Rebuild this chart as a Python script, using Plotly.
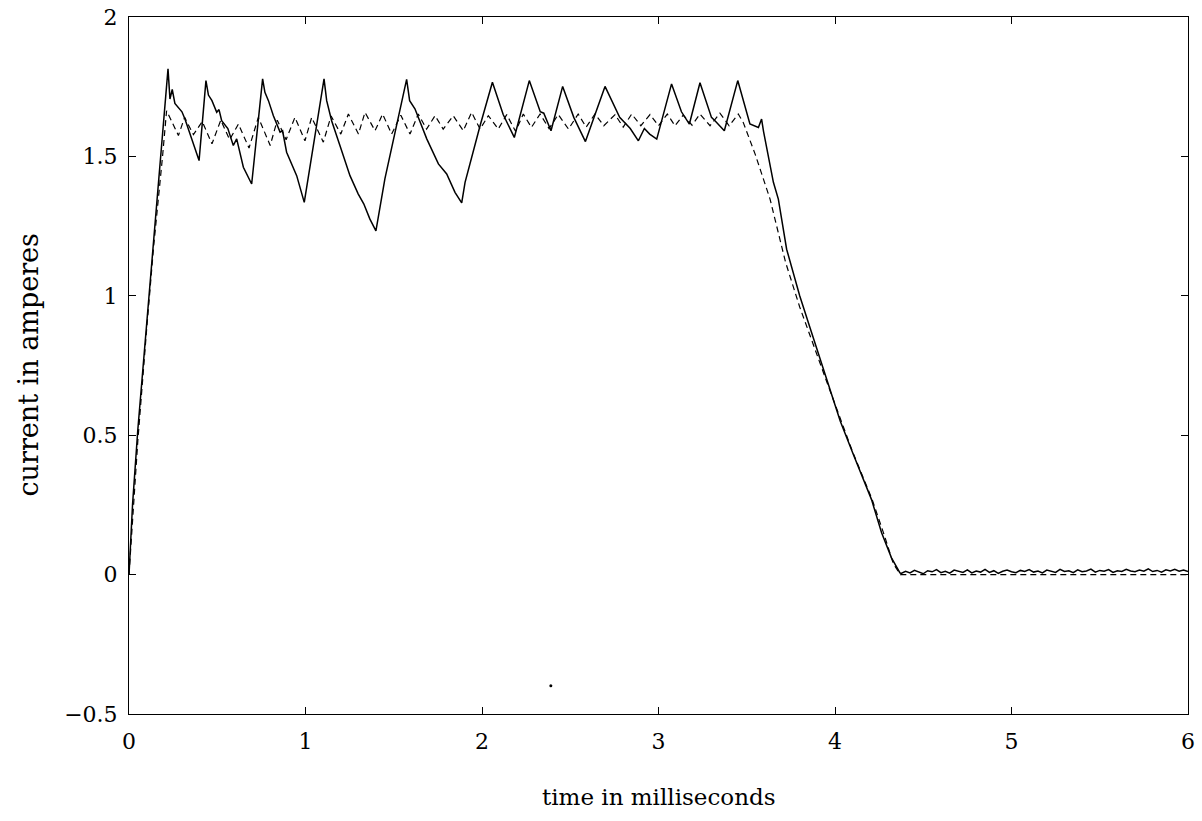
import plotly.graph_objects as go

# ---- data (time in ms, current in A) ----
solid_t = [0.0, 0.02, 0.05, 0.1, 0.138, 0.18, 0.221, 0.232, 0.245, 0.26, 0.28, 0.30, 0.317, 0.355, 0.397,
           0.436, 0.45, 0.47, 0.497, 0.51, 0.525, 0.56, 0.591, 0.61, 0.648, 0.695,
           0.757, 0.77, 0.79, 0.818, 0.856, 0.87, 0.893, 0.95, 0.993,
           1.05, 1.105, 1.12, 1.148, 1.195, 1.252, 1.299, 1.33, 1.365, 1.399,
           1.45, 1.52, 1.573, 1.59, 1.62, 1.687, 1.753, 1.8, 1.847, 1.885,
           1.904, 1.989, 2.059, 2.12, 2.183, 2.268, 2.33, 2.35, 2.391, 2.457, 2.52, 2.586,
           2.697, 2.78, 2.84, 2.886, 2.92, 2.95, 2.99, 3.074, 3.13, 3.175, 3.235, 3.3, 3.32, 3.373,
           3.449, 3.518, 3.566, 3.584, 3.595, 3.651, 3.679, 3.726, 3.8, 3.858, 3.963, 4.03,
           4.104, 4.207, 4.264, 4.32, 4.368]
solid_y = [0.0, 0.25, 0.52, 0.9, 1.19, 1.5, 1.814, 1.706, 1.74, 1.69, 1.676, 1.66, 1.634, 1.563, 1.485,
           1.772, 1.72, 1.70, 1.658, 1.668, 1.628, 1.60, 1.539, 1.563, 1.461, 1.401,
           1.778, 1.73, 1.70, 1.646, 1.587, 1.592, 1.515, 1.431, 1.335,
           1.56, 1.778, 1.70, 1.628, 1.539, 1.431, 1.365, 1.33, 1.275, 1.233,
           1.42, 1.62, 1.776, 1.70, 1.671, 1.563, 1.473, 1.437, 1.371, 1.333,
           1.407, 1.61, 1.766, 1.65, 1.568, 1.772, 1.66, 1.655, 1.592, 1.751, 1.64, 1.553,
           1.751, 1.64, 1.60, 1.556, 1.60, 1.58, 1.562, 1.760, 1.66, 1.616, 1.764, 1.64, 1.628, 1.592,
           1.772, 1.616, 1.604, 1.634, 1.59, 1.407, 1.347, 1.167, 1.0, 0.886, 0.676, 0.55,
           0.431, 0.269, 0.150, 0.06, 0.006]

noise_t = [4.375, 4.4, 4.425, 4.45, 4.475, 4.5, 4.525, 4.55, 4.575, 4.6, 4.625, 4.65, 4.675,
           4.7, 4.725, 4.75, 4.775, 4.8, 4.825, 4.85, 4.875, 4.9, 4.925, 4.95, 4.975, 5.0,
           5.025, 5.05, 5.075, 5.1, 5.125, 5.15, 5.175, 5.2, 5.225, 5.25, 5.275, 5.3, 5.325,
           5.35, 5.375, 5.4, 5.425, 5.45, 5.475, 5.5, 5.525, 5.55, 5.575, 5.6, 5.625, 5.65,
           5.675, 5.7, 5.725, 5.75, 5.775, 5.8, 5.825, 5.85, 5.875, 5.9, 5.925, 5.95, 5.975, 6.0]
noise_y = [0.004, 0.012, 0.006, 0.015, 0.009, 0.003, 0.014, 0.010, 0.018, 0.007,
           0.012, 0.005, 0.016, 0.011, 0.008, 0.017, 0.006, 0.013, 0.009, 0.019,
           0.008, 0.014, 0.004, 0.012, 0.016, 0.010, 0.007, 0.015, 0.011, 0.018,
           0.009, 0.013, 0.006, 0.016, 0.012, 0.008, 0.019, 0.011, 0.014, 0.007,
           0.017, 0.010, 0.013, 0.020, 0.009, 0.015, 0.012, 0.018, 0.008, 0.014,
           0.011, 0.019, 0.013, 0.010, 0.016, 0.012, 0.021, 0.011, 0.015, 0.009,
           0.017, 0.013, 0.019, 0.012, 0.016, 0.011]

dash_t = [0.0, 0.05, 0.1, 0.14, 0.19, 0.213,
          0.28, 0.315, 0.365, 0.415, 0.47, 0.52, 0.57, 0.62, 0.68, 0.733, 0.80, 0.84, 0.89, 0.94,
          0.997, 1.035, 1.101, 1.145, 1.20, 1.243, 1.30, 1.337, 1.394, 1.437, 1.488, 1.54,
          1.592, 1.639, 1.686, 1.734, 1.78, 1.837, 1.894, 1.941, 1.989, 2.036, 2.092, 2.14,
          2.19, 2.234, 2.28, 2.329, 2.38, 2.432, 2.49, 2.545, 2.59, 2.64, 2.69, 2.754, 2.80,
          2.848, 2.90, 2.952, 3.0, 3.05, 3.093, 3.14, 3.19, 3.235, 3.292, 3.348, 3.40, 3.452,
          3.48, 3.547, 3.632, 3.72, 3.80, 3.85, 3.96, 4.10, 4.21, 4.28, 4.33, 4.37, 6.0]
dash_y = [0.0, 0.48, 0.88, 1.18, 1.5, 1.664,
          1.575, 1.640, 1.578, 1.625, 1.545, 1.630, 1.560, 1.616, 1.530, 1.640, 1.539, 1.630,
          1.560, 1.640, 1.556, 1.640, 1.551, 1.645, 1.580, 1.652, 1.580, 1.658, 1.592, 1.652,
          1.580, 1.648, 1.580, 1.652, 1.598, 1.646, 1.598, 1.646, 1.592, 1.658, 1.598, 1.646,
          1.598, 1.650, 1.590, 1.652, 1.604, 1.652, 1.600, 1.650, 1.598, 1.652, 1.605, 1.652,
          1.610, 1.650, 1.605, 1.652, 1.610, 1.650, 1.610, 1.652, 1.610, 1.648, 1.612, 1.652,
          1.610, 1.655, 1.610, 1.652,
          1.622, 1.509, 1.347, 1.12, 0.96, 0.87, 0.68, 0.44, 0.27, 0.14, 0.04, 0.0, 0.0]

speck_t = [2.39]
speck_y = [-0.399]

x_ticks = [0, 1, 2, 3, 4, 5, 6]
y_ticks = [-0.5, 0, 0.5, 1, 1.5, 2]

fig = go.Figure()
fig.add_trace(go.Scatter(x=dash_t, y=dash_y, mode="lines",
                         line=dict(color="black", width=1.2, dash="6px,4px"),
                         showlegend=False, hoverinfo="skip"))
fig.add_trace(go.Scatter(x=solid_t + noise_t, y=solid_y + noise_y, mode="lines",
                         line=dict(color="black", width=1.5),
                         showlegend=False, hoverinfo="skip"))
fig.add_trace(go.Scatter(x=speck_t, y=speck_y, mode="markers",
                         marker=dict(color="black", size=3),
                         showlegend=False, hoverinfo="skip"))

font_family = "DejaVu Serif"
axis_common = dict(showgrid=False, zeroline=False, showline=True, linecolor="black",
                   linewidth=1, mirror="ticks", ticks="inside", ticklen=7,
                   tickcolor="black", tickwidth=1, ticklabeloverflow="allow",
                   tickfont=dict(family=font_family, size=22, color="black"))

fig.update_layout(
    width=1202, height=821,
    margin=dict(l=129, r=14, t=17, b=107, autoexpand=False),
    paper_bgcolor="white", plot_bgcolor="white",
    xaxis=dict(range=[0, 6], tickvals=x_ticks, ticktext=[str(v) for v in x_ticks],
               ticklabelstandoff=8, automargin=False, **axis_common),
    yaxis=dict(range=[-0.5, 2], tickvals=y_ticks,
               ticktext=["\u22120.5", "0", "0.5", "1", "1.5", "2"],
               ticklabelstandoff=6, automargin=False, **axis_common),
    annotations=[
        dict(text="time in milliseconds", x=0.5, y=0, xref="paper", yref="paper",
             xanchor="center", yanchor="middle", yshift=-83, showarrow=False,
             font=dict(family=font_family, size=23, color="black")),
        dict(text="current in amperes", x=0, y=0.5, xref="paper", yref="paper",
             xanchor="center", yanchor="middle", xshift=-101, textangle=-90, showarrow=False,
             font=dict(family=font_family, size=27, color="black")),
    ],
)

fig.write_html("out.html")
